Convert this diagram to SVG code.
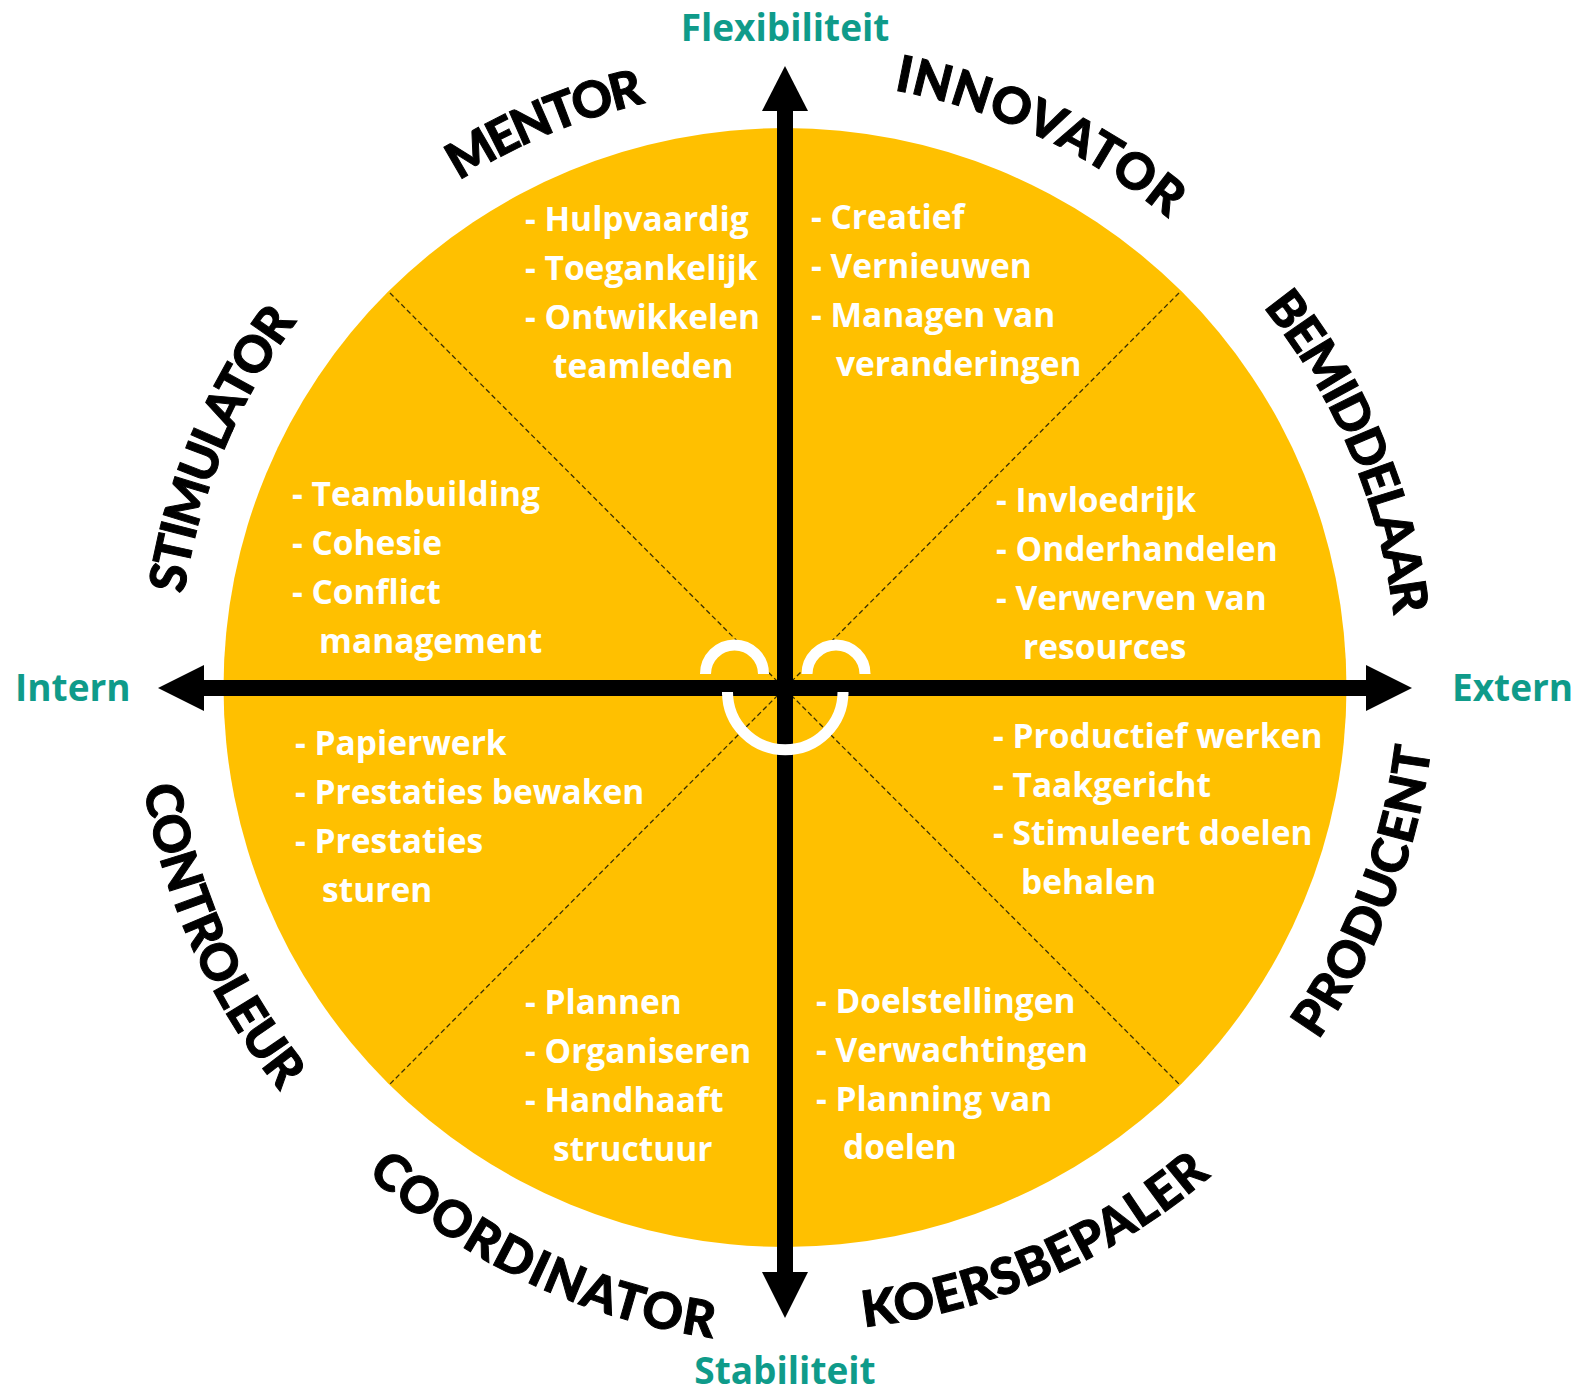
<svg xmlns="http://www.w3.org/2000/svg" width="1577" height="1387" viewBox="0 0 1577 1387">
<style>
.item{font-family:"Open Sans","Liberation Sans",sans-serif;font-weight:700;font-size:33.5px;fill:#fff}
.axis{font-family:"Open Sans","Liberation Sans",sans-serif;font-weight:700;font-size:37px;fill:#0f9b8a}
.role{font-family:"Lato","Liberation Sans",sans-serif;font-weight:900;font-size:50px;fill:#000;stroke:#000;stroke-width:1}
.ax{stroke:#000;stroke-width:16;fill:none}
.div{stroke:#3a3000;stroke-width:1.3;stroke-dasharray:5 3;fill:none}
.arc{stroke:#fff;stroke-width:11;fill:none}
</style>
<defs>
<path id="pM" d="M459 181A602 602 0 0 1 645 103"/>
<path id="pI" d="M894 90A608 608 0 0 1 1168 218"/>
<path id="pB" d="M1263 307A612 612 0 0 1 1394 618"/>
<path id="pS" d="M184 594A608 608 0 0 1 298 320"/>
<path id="pP" d="M1318 1040A640 640 0 0 0 1431 749"/>
<path id="pK" d="M864 1327A645 645 0 0 0 1211 1176"/>
<path id="pC" d="M367 1174A645 645 0 0 0 712 1338"/>
<path id="pT" d="M144 787A649 649 0 0 0 280 1091"/>
</defs>
<rect width="1577" height="1387" fill="#fff"/>
<g id="wheel"><ellipse cx="785" cy="687.5" rx="561.500" ry="559.500" fill="#ffc000"/></g>
<g id="connectors">
<path class="div" d="M390 293L1179 1084"/>
<path class="div" d="M1179 293L390 1084"/>
<path class="ax" d="M785 110V1273"/>
<path class="ax" d="M203 688H1367"/>
<path d="M785 66L808 111H762Z"/>
<path d="M785 1318L808 1272H762Z"/>
<path d="M158 688L204 665V711Z"/>
<path d="M1412 688L1366 665V711Z"/>
</g>
<g id="face">
<path class="arc" d="M705.500 673V674A29 29 0 0 1 763.500 674V673"/>
<path class="arc" d="M807 673V674A29 29 0 0 1 865 674V673"/>
<path class="arc" d="M727.500 695V692A57.500 57.500 0 0 0 843 692V695"/>
</g>
<g id="axis-labels">
<text class="axis" x="785" y="41" text-anchor="middle">Flexibiliteit</text>
<text class="axis" x="785" y="1384" text-anchor="middle">Stabiliteit</text>
<text class="axis" x="15" y="701">Intern</text>
<text class="axis" x="1452" y="701">Extern</text>
</g>
<g id="mentor"><text class="role"><textPath href="#pM" textLength="203" lengthAdjust="spacing">MENTOR</textPath></text>
<text class="item"><tspan x="525" y="231">- Hulpvaardig</tspan><tspan x="525" y="280">- Toegankelijk</tspan><tspan x="525" y="329">- Ontwikkelen</tspan><tspan x="553" y="378">teamleden</tspan></text></g>
<g id="innovator"><text class="role"><textPath href="#pI" textLength="306" lengthAdjust="spacing">INNOVATOR</textPath></text>
<text class="item"><tspan x="811" y="229">- Creatief</tspan><tspan x="811" y="278">- Vernieuwen</tspan><tspan x="811" y="327">- Managen van</tspan><tspan x="836" y="376">veranderingen</tspan></text></g>
<g id="bemiddelaar"><text class="role"><textPath href="#pB" textLength="339" lengthAdjust="spacing">BEMIDDELAAR</textPath></text>
<text class="item"><tspan x="996" y="512">- Invloedrijk</tspan><tspan x="996" y="561">- Onderhandelen</tspan><tspan x="996" y="610">- Verwerven van</tspan><tspan x="1023" y="659">resources</tspan></text></g>
<g id="stimulator"><text class="role"><textPath href="#pS" textLength="298" lengthAdjust="spacing">STIMULATOR</textPath></text>
<text class="item"><tspan x="292" y="506">- Teambuilding</tspan><tspan x="292" y="555">- Cohesie</tspan><tspan x="292" y="604">- Conflict</tspan><tspan x="319" y="653">management</tspan></text></g>
<g id="producent"><text class="role"><textPath href="#pP" textLength="316" lengthAdjust="spacing">PRODUCENT</textPath></text>
<text class="item"><tspan x="993" y="748">- Productief werken</tspan><tspan x="993" y="797">- Taakgericht</tspan><tspan x="993" y="845">- Stimuleert doelen</tspan><tspan x="1021" y="894">behalen</tspan></text></g>
<g id="koersbepaler"><text class="role"><textPath href="#pK" textLength="384" lengthAdjust="spacing">KOERSBEPALER</textPath></text>
<text class="item"><tspan x="816" y="1013">- Doelstellingen</tspan><tspan x="816" y="1062">- Verwachtingen</tspan><tspan x="816" y="1111">- Planning van</tspan><tspan x="843" y="1159">doelen</tspan></text></g>
<g id="coordinator"><text class="role"><textPath href="#pC" textLength="388" lengthAdjust="spacing">COORDINATOR</textPath></text>
<text class="item"><tspan x="525" y="1014">- Plannen</tspan><tspan x="525" y="1063">- Organiseren</tspan><tspan x="525" y="1112">- Handhaaft</tspan><tspan x="553" y="1161">structuur</tspan></text></g>
<g id="controleur"><text class="role"><textPath href="#pT" textLength="337" lengthAdjust="spacing">CONTROLEUR</textPath></text>
<text class="item"><tspan x="295" y="755">- Papierwerk</tspan><tspan x="295" y="804">- Prestaties bewaken</tspan><tspan x="295" y="853">- Prestaties</tspan><tspan x="322" y="902">sturen</tspan></text></g>
</svg>
